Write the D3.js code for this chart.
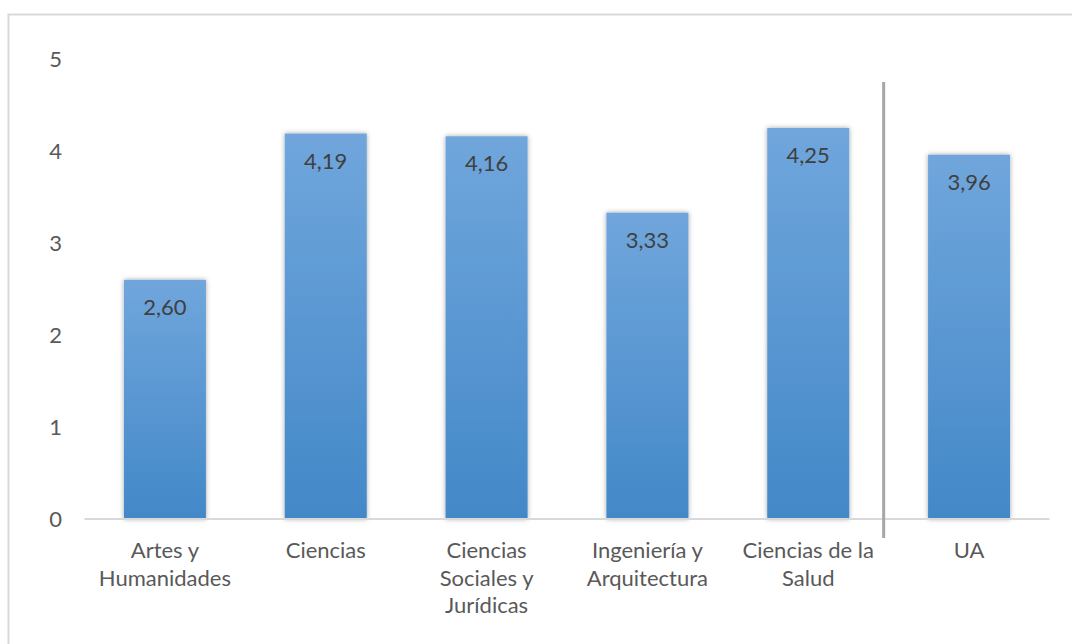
<!DOCTYPE html>
<html>
<head>
<meta charset="utf-8">
<script src="https://cdn.jsdelivr.net/npm/d3@7"></script>
<style>
  html, body { margin: 0; padding: 0; background: #fff; }
  svg { display: block; font-family: Lato, "Open Sans", sans-serif; }
</style>
</head>
<body>
<svg id="chart" width="1072" height="644"></svg>
<script>
const categories = ["Artes y Humanidades", "Ciencias", "Ciencias Sociales y Jurídicas", "Ingeniería y Arquitectura", "Ciencias de la Salud", "UA"];
const categoryLines = [["Artes y", "Humanidades"], ["Ciencias"], ["Ciencias", "Sociales y", "Jurídicas"], ["Ingeniería y", "Arquitectura"], ["Ciencias de la", "Salud"], ["UA"]];
const values = [2.60, 4.19, 4.16, 3.33, 4.25, 3.96];
const yTicks = [0, 1, 2, 3, 4, 5];
const separatorTop = 4.75;

const svg = d3.select("#chart");
const W = 1072, H = 644;
const margin = { left: 84.5, right: 22.5, top: 59, bottom: 125 };

// outer border
svg.append("rect")
  .attr("x", 8.5).attr("y", 14.5)
  .attr("width", W + 10).attr("height", H + 10)
  .attr("fill", "none").attr("stroke", "#d9d9d9").attr("stroke-width", 2);

const x = d3.scaleBand()
  .domain(categories)
  .range([margin.left, W - margin.right])
  .paddingInner(0.49).paddingOuter(0.245);

const y = d3.scaleLinear().domain([0, 5]).range([519, 59]);

const defs = svg.append("defs");
const grad = defs.append("linearGradient").attr("id", "barGrad")
  .attr("x1", 0).attr("y1", 0).attr("x2", 0).attr("y2", 1);
grad.append("stop").attr("offset", "0%").attr("stop-color", "#70a6dc");
grad.append("stop").attr("offset", "100%").attr("stop-color", "#4388c8");

const shadow = defs.append("filter").attr("id", "shadow")
  .attr("x", "-20%").attr("y", "-10%").attr("width", "140%").attr("height", "120%");
shadow.append("feDropShadow").attr("dx", 0).attr("dy", 0).attr("stdDeviation", 2.5)
  .attr("flood-color", "#000").attr("flood-opacity", 0.35);

// y axis tick labels
const yAxis = d3.axisLeft(y).tickValues(yTicks).tickSize(0).tickPadding(0).tickFormat(d3.format("d"));
const gy = svg.append("g").attr("transform", "translate(62,0)").call(yAxis);
gy.select(".domain").remove();
gy.selectAll("text")
  .attr("font-size", 22).attr("fill", "#595959").attr("dy", "0.36em")
  .style("font-family", "Lato, 'Open Sans', sans-serif");

// bars
svg.append("g").selectAll("rect").data(values).join("rect")
  .attr("x", (d, i) => x(categories[i]))
  .attr("y", d => y(d))
  .attr("width", x.bandwidth())
  .attr("height", d => y(0) - y(d))
  .attr("fill", "url(#barGrad)")
  .attr("filter", "url(#shadow)");

// baseline axis
const xAxis = d3.axisBottom(x).tickSize(0).tickFormat("");
const gx = svg.append("g").attr("transform", `translate(0,${y(0)})`).call(xAxis);
gx.select(".domain").attr("stroke", "#d9d9d9").attr("stroke-width", 2)
  .attr("d", `M${margin.left},0H${W - margin.right}`);

// value labels
svg.append("g").selectAll("text").data(values).join("text")
  .attr("x", (d, i) => x(categories[i]) + x.bandwidth() / 2)
  .attr("y", d => y(d) + 35)
  .attr("text-anchor", "middle")
  .attr("font-size", 22).attr("fill", "#404040")
  .text(d => d3.format(".2f")(d).replace(".", ","));

// category labels
const labG = svg.append("g");
categories.forEach((c, i) => {
  const t = labG.append("text")
    .attr("x", x(c) + x.bandwidth() / 2)
    .attr("y", 558)
    .attr("text-anchor", "middle")
    .attr("font-size", 22).attr("fill", "#595959");
  categoryLines[i].forEach((line, j) => {
    t.append("tspan").attr("x", x(c) + x.bandwidth() / 2).attr("dy", j === 0 ? 0 : 27.5).text(line);
  });
});

// separator line between last group and total
const sepX = (x(categories[4]) + x.bandwidth() + x(categories[5])) / 2 - 5;
svg.append("line")
  .attr("x1", sepX).attr("x2", sepX)
  .attr("y1", y(separatorTop)).attr("y2", y(0) + 19)
  .attr("stroke", "#a6a6a6").attr("stroke-width", 3);
</script>
</body>
</html>
